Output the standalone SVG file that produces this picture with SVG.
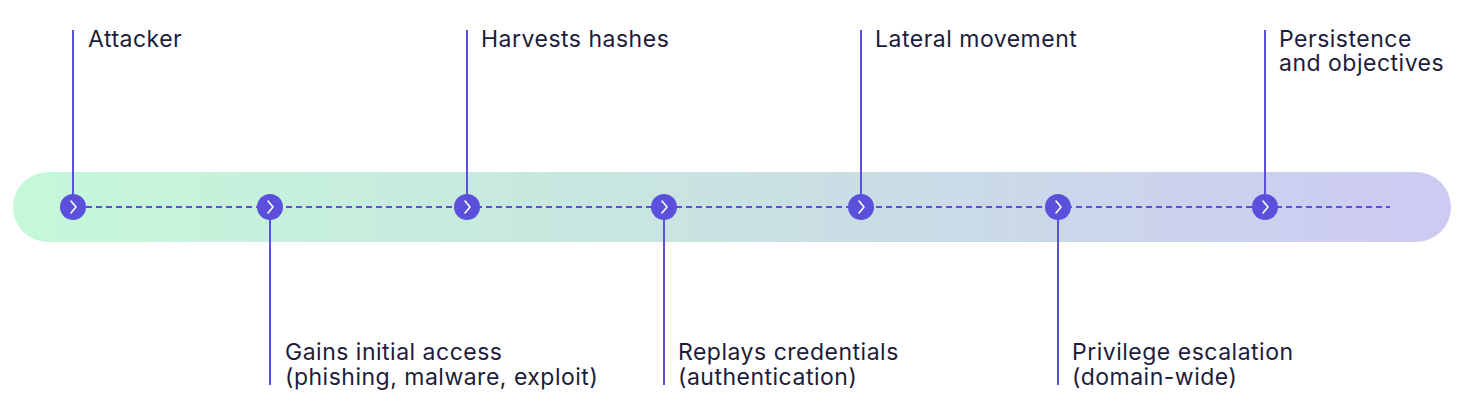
<svg xmlns="http://www.w3.org/2000/svg" width="1464" height="414" viewBox="0 0 1464 414">
<defs>
<linearGradient id="bar" x1="0" y1="0" x2="1" y2="0">
<stop offset="0" stop-color="#c5f8d9"/>
<stop offset="0.5" stop-color="#c9e2e2"/>
<stop offset="1" stop-color="#cdcaf3"/>
</linearGradient>
<style>
.lbl{font-family:Inter,"Liberation Sans",sans-serif;font-size:23px;letter-spacing:0.5px;fill:#1d1c3b;}
.stem{stroke:#5b50dc;stroke-width:2;fill:none;}
.dot{fill:#5b50dc;}
.chev{stroke:#ffffff;stroke-width:1.6;fill:none;stroke-linecap:round;stroke-linejoin:round;}
.dash{stroke:#5b50dc;stroke-width:2;stroke-dasharray:6 4;fill:none;}
</style>
</defs>
<rect x="13" y="172" width="1438" height="70" rx="35" fill="url(#bar)"/>
<g id="connectors">
<line class="dash" x1="86" y1="207" x2="1390" y2="207"/>
<line class="stem" x1="73" y1="30" x2="73" y2="195"/>
<line class="stem" x1="270" y1="219" x2="270" y2="385"/>
<line class="stem" x1="467" y1="30" x2="467" y2="195"/>
<line class="stem" x1="664" y1="219" x2="664" y2="385"/>
<line class="stem" x1="861" y1="30" x2="861" y2="195"/>
<line class="stem" x1="1058" y1="219" x2="1058" y2="385"/>
<line class="stem" x1="1265" y1="30" x2="1265" y2="195"/>
</g>
<g id="n1"><circle class="dot" cx="73" cy="207" r="13"/><path class="chev" d="M71 201 L76 207 L71 213"/><text class="lbl" x="88" y="47">Attacker</text></g>
<g id="n2"><circle class="dot" cx="270" cy="207" r="13"/><path class="chev" d="M268 201 L273 207 L268 213"/><text class="lbl" x="285" y="360">Gains initial access</text><text class="lbl" x="285" y="385">(phishing, malware, exploit)</text></g>
<g id="n3"><circle class="dot" cx="467" cy="207" r="13"/><path class="chev" d="M465 201 L470 207 L465 213"/><text class="lbl" x="481" y="47">Harvests hashes</text></g>
<g id="n4"><circle class="dot" cx="664" cy="207" r="13"/><path class="chev" d="M662 201 L667 207 L662 213"/><text class="lbl" x="678" y="360">Replays credentials</text><text class="lbl" x="678" y="385">(authentication)</text></g>
<g id="n5"><circle class="dot" cx="861" cy="207" r="13"/><path class="chev" d="M859 201 L864 207 L859 213"/><text class="lbl" x="875" y="47">Lateral movement</text></g>
<g id="n6"><circle class="dot" cx="1058" cy="207" r="13"/><path class="chev" d="M1056 201 L1061 207 L1056 213"/><text class="lbl" x="1072" y="360">Privilege escalation</text><text class="lbl" x="1072" y="385">(domain-wide)</text></g>
<g id="n7"><circle class="dot" cx="1265" cy="207" r="13"/><path class="chev" d="M1263 201 L1268 207 L1263 213"/><text class="lbl" x="1279" y="47">Persistence</text><text class="lbl" x="1279" y="71">and objectives</text></g>
</svg>
